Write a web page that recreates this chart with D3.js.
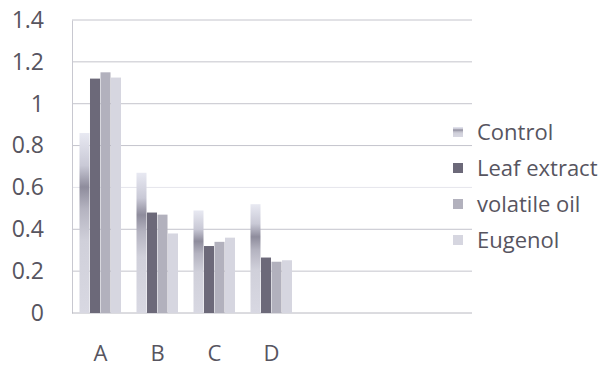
<!DOCTYPE html>
<html>
<head>
<meta charset="utf-8">
<script src="https://cdn.jsdelivr.net/npm/d3@7"></script>
<style>
  body { margin: 0; background: #fff; }
  text { font-family: "Open Sans", sans-serif; fill: #57555f; }
</style>
</head>
<body>
<script>
var categories = ['A', 'B', 'C', 'D']
var series = ['Control', 'Leaf extract', 'volatile oil', 'Eugenol']
var control = [0.86, 0.67, 0.49, 0.52]
var leafExtract = [1.12, 0.48, 0.32, 0.265]
var volatileOil = [1.15, 0.47, 0.34, 0.245]
var eugenol = [1.125, 0.38, 0.36, 0.252]
var yTicks = [0, 0.2, 0.4, 0.6, 0.8, 1, 1.2, 1.4]

var values = [control, leafExtract, volatileOil, eugenol]
var data = categories.map(function (c, i) {
  return {cat: c, vals: series.map(function (s, j) { return {key: s, value: values[j][i]} })}
})

var margin = {top: 20, right: 140, bottom: 56, left: 72}
var width = 612 - margin.left - margin.right
var height = 369 - margin.top - margin.bottom

var x = d3.scaleBand().domain(categories)
  .range([0, 57 * categories.length])
  .paddingInner(0.263).paddingOuter(0.1315)
var xSub = d3.scaleBand().domain(series).range([0, x.bandwidth()])
var y = d3.scaleLinear().domain([0, 1.4]).range([height, 0])

var svg = d3.select('body').append('svg')
  .attr('width', 612)
  .attr('height', 369)

var defs = svg.append('defs')
var grad = defs.append('linearGradient').attr('id', 'ctrl')
  .attr('x1', 0).attr('y1', 0).attr('x2', 0).attr('y2', 1)
grad.selectAll('stop')
  .data([[0, '#e8e9f2'], [0.18, '#c9c9d6'], [0.3, '#8e8c9c'], [0.42, '#b4b3c0'], [0.6, '#d0d0da'], [1, '#d8d8e2']])
  .enter().append('stop')
  .attr('offset', d => d[0])
  .attr('stop-color', d => d[1])

var color = d3.scaleOrdinal().domain(series)
  .range(['url(#ctrl)', '#6c6979', '#b2b1bd', '#d6d6e0'])

var g = svg.append('g')
  .attr('transform', `translate(${margin.left}, ${margin.top})`)

// gridlines
g.selectAll('.grid')
  .data(yTicks.filter(d => d > 0))
  .enter().append('line')
  .attr('x1', 0).attr('x2', width)
  .attr('y1', d => y(d)).attr('y2', d => y(d))
  .attr('stroke', d => d === 0.6 ? '#e6e6ec' : '#c4c4cc')
  .attr('stroke-width', 1)

// y axis
var yAxis = g.append('g')
  .call(d3.axisLeft(y).tickValues(yTicks).tickSize(0).tickPadding(28)
    .tickFormat(d3.format('')))
yAxis.select('.domain').attr('stroke', '#c8c8d0')
yAxis.selectAll('text').style('font-size', '23px').attr('fill', '#57555f')

// x axis
var xAxis = g.append('g')
  .attr('transform', `translate(0, ${height})`)
  .call(d3.axisBottom(x).tickSize(0).tickPadding(32))
xAxis.select('.domain').remove()
xAxis.selectAll('text').style('font-size', '22px').attr('fill', '#57555f')
g.append('line')
  .attr('x1', 0).attr('x2', width)
  .attr('y1', height).attr('y2', height)
  .attr('stroke', '#b8b8c0')

// bars
g.selectAll('.group')
  .data(data)
  .enter().append('g')
  .attr('transform', d => `translate(${x(d.cat)}, 0)`)
  .selectAll('rect')
  .data(d => d.vals)
  .enter().append('rect')
  .attr('x', d => xSub(d.key))
  .attr('width', xSub.bandwidth() - 0.5)
  .attr('y', d => y(d.value))
  .attr('height', d => height - y(d.value))
  .attr('fill', d => color(d.key))

// legend
var legend = svg.append('g')
  .attr('transform', 'translate(453, 132)')
var item = legend.selectAll('.item')
  .data(series)
  .enter().append('g')
  .attr('transform', (d, i) => `translate(0, ${i * 36})`)
item.append('rect')
  .attr('x', 0).attr('y', -5)
  .attr('width', 10).attr('height', 10)
  .attr('fill', d => color(d))
item.append('text')
  .attr('x', 24).attr('y', 0)
  .attr('dy', '0.35em')
  .style('font-size', '22px')
  .text(d => d)
</script>
</body>
</html>
